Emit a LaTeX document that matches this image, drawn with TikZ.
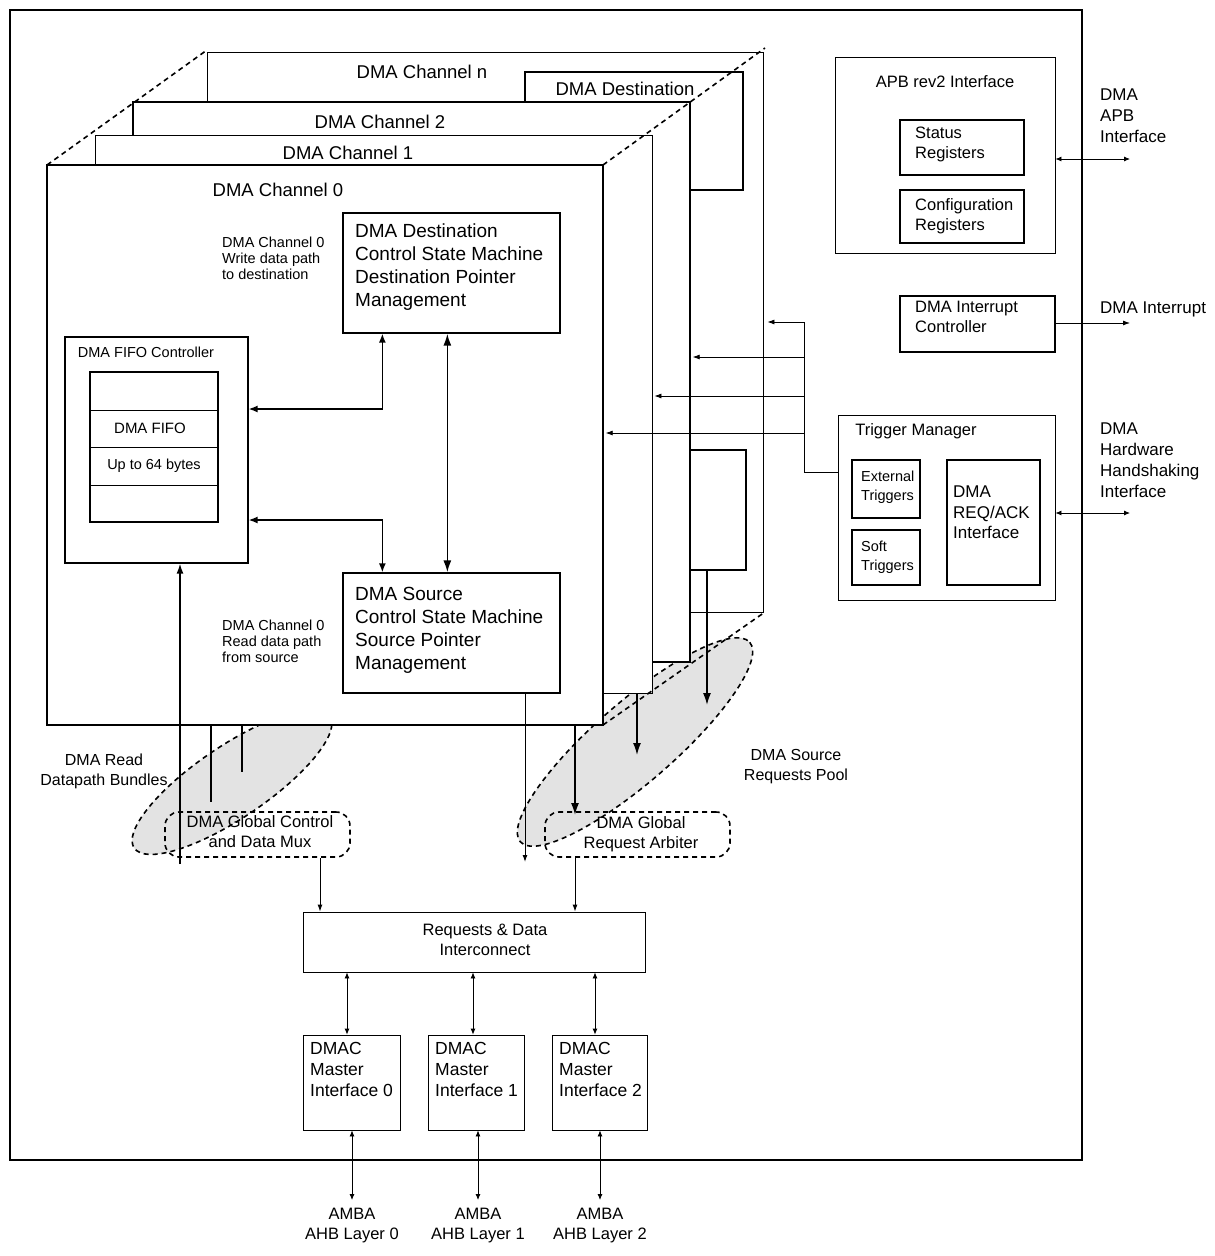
\documentclass[tikz,border=0pt]{standalone}
\usepackage{fontspec}
\setmainfont{Liberation Sans}
\usetikzlibrary{fit,arrows.meta,calc}
\begin{document}
\begin{tikzpicture}[x=1pt,y=-1pt,
  box/.style={draw,line width=1.3pt,fill=white,inner sep=0pt},
  tbox/.style={draw,line width=0.8pt,fill=white,inner sep=0pt},
  dsh/.style={dashed,line width=1.6pt,dash pattern=on 5pt off 4pt},
  lbl/.style={font=\fontsize{16}{19}\selectfont,align=left,inner sep=0pt},
  sm/.style={font=\fontsize{13}{16}\selectfont,align=left,inner sep=0pt},
  ar/.style={-{Latex[length=7pt,width=5pt]},line width=0.8pt},
  dar/.style={{Latex[length=6pt,width=5pt]}-{Latex[length=6pt,width=5pt]},line width=0.8pt},
  tar/.style={{Latex[length=12pt,width=8pt]}-{Latex[length=12pt,width=8pt]},line width=1.6pt},
  tdown/.style={-{Latex[length=12pt,width=8pt]},line width=1.6pt}]
\useasboundingbox (0,0) rectangle (1215,1256);
\node[draw,line width=1.3pt,inner sep=0pt,fit={(10,10)(1082,1160)}] (outer) {};
% pools
\fill[gray!22] (232,782) ellipse[x radius=118,y radius=36,rotate=34];
\draw[dsh] (232,782) ellipse[x radius=118,y radius=36,rotate=34];
\fill[gray!22] (635,742) ellipse[x radius=152,y radius=40,rotate=41];
\draw[dsh] (635,742) ellipse[x radius=152,y radius=40,rotate=41];
% channel n
\node[tbox,fit={(207,52)(763,612)}] (chn) {};
\node[lbl,font=\fontsize{18.5}{22}\selectfont] at (422,72) {DMA Channel n};
\node[box,fit={(525,72)(743,190)}] (dest) {};
\node[lbl,font=\fontsize{18.5}{22}\selectfont] at (625,89) {DMA Destination};
\node[box,fit={(690,450)(746,570)}] (chnsrc) {};
% channel 2
\node[box,fit={(133,102)(690,662)}] (ch2) {};
\node[lbl,font=\fontsize{18.5}{22}\selectfont] at (380,122) {DMA Channel 2};
% channel 1
\node[tbox,fit={(95,135)(652,693)}] (ch1) {};
\node[lbl,font=\fontsize{18.5}{22}\selectfont] at (348,153) {DMA Channel 1};
% dashed perspective
\draw[dsh] (47,165) -- (207,50);
\draw[dsh] (603,165) -- (765,48);
\draw[dsh] (603,725) -- (765,612);
\draw[line width=1.3pt] (525,102) -- (525,72) -- (743,72) -- (743,190) -- (690,190);
% channel 0
\node[box,fit={(47,165)(603,725)}] (ch0) {};
\node[lbl,font=\fontsize{18.5}{22}\selectfont] at (278,190) {DMA Channel 0};
\node[box,fit={(343,213)(560,333)}] (dst) {};
\node[lbl,anchor=north west,font=\fontsize{19}{23}\selectfont] at (355,224) {DMA Destination\\Control State Machine\\Destination Pointer\\Management};
\node[box,fit={(343,573)(560,693)}] (src) {};
\node[lbl,anchor=north west,font=\fontsize{19}{23}\selectfont] at (355,587) {DMA Source\\Control State Machine\\Source Pointer\\Management};
\node[sm,anchor=north west,font=\fontsize{14.5}{16}\selectfont] at (222,237) {DMA Channel 0\\Write data path\\to destination};
\node[sm,anchor=north west,font=\fontsize{14.5}{16}\selectfont] at (222,620) {DMA Channel 0\\Read data path\\from source};
\node[box,fit={(65,337)(248,563)}] (fifoc) {};
\node[sm,font=\fontsize{14.5}{16}\selectfont] at (146,352) {DMA FIFO Controller};
\node[box,fit={(90,372)(218,522)}] (fifo) {};
\draw[line width=0.7pt] (90,410)--(218,410) (90,447)--(218,447) (90,485)--(218,485);
\node[sm,font=\fontsize{15}{16}\selectfont] at (150,428) {DMA FIFO};
\node[sm,font=\fontsize{14.5}{16}\selectfont] at (154,466) {Up to 64 bytes};
% internal arrows
\draw[line width=1.4pt,{Latex[length=9pt,width=7pt]}-{Latex[length=9pt,width=7pt]}] (fifoc.east |- 0,409) -| ($(dst.south west)+(40,0)$);
\draw[line width=1.4pt,{Latex[length=9pt,width=7pt]}-{Latex[length=9pt,width=7pt]}] (fifoc.east |- 0,520) -| ($(src.north west)+(40,0)$);
\draw[tar] ($(dst.south west)+(105,0)$) -- ($(src.north west)+(105,0)$);
% bottom bundles
\coordinate (rd0) at (180,864);
\draw[line width=1.4pt,-{Latex[length=10pt,width=7pt]}] (rd0) -- (fifoc.south -| rd0);
\draw[line width=1.4pt] (211,725) -- (211,802) (242,725) -- (242,772);
% global boxes
\node[draw,dsh,rounded corners=14pt,fit={(165,812)(350,857)},inner sep=0pt] (mux) {};
\node[sm,align=center,font=\fontsize{16.5}{20}\selectfont] at (260,832) {DMA Global Control\\and Data Mux};
\node[draw,dsh,rounded corners=14pt,fit={(545,812)(730,857)},inner sep=0pt] (arb) {};
\node[sm,align=center,font=\fontsize{16.5}{20}\selectfont] at (641,834) {DMA Global\\Request Arbiter};
% source request arrows
\draw[ar,line width=1pt] (src.south -| 525,0) -- (525,862);
\draw[tdown] (ch0.south -| 575,0) -- (575,815);
\draw[tdown,line width=1.4pt] (ch1.south -| 637,0) -- (637,755);
\draw[tdown] (chnsrc.south -| 707,0) -- (707,705);
% labels
\node[lbl,align=center,font=\fontsize{16}{20}\selectfont] at (104,771) {DMA Read\\Datapath Bundles};
\node[lbl,align=center,font=\fontsize{16}{20}\selectfont] at (796,767) {DMA Source\\Requests Pool};
% interconnect
\node[tbox,fit={(303,912)(645,972)}] (ic) {};
\node[sm,align=center,font=\fontsize{16.5}{20}\selectfont] at (485,940) {Requests \& Data\\Interconnect};
\draw[ar,line width=1pt] (mux.south -| 320,0) -- (ic.north -| 320,0);
\draw[ar,line width=1pt] (arb.south -| 575,0) -- (ic.north -| 575,0);
% masters
\foreach \n/\xa/\xb/\xc in {0/303/400/352, 1/428/524/478, 2/552/647/600}{
  \node[tbox,fit={(\xa,1035)(\xb,1130)}] (m\n) {};
  \node[lbl,anchor=north west,font=\fontsize{17.5}{21}\selectfont] at (\xa+7,1042) {DMAC\\Master\\Interface \n};
  \draw[dar] (ic.south -| \xc-5,0) -- (m\n.north -| \xc-5,0);
  \coordinate (amba\n) at (\xc,1200);
  \draw[dar] (m\n.south -| \xc,0) -- (amba\n);
  \node[lbl,align=center,font=\fontsize{16.5}{20}\selectfont,anchor=north] at (\xc,1208) {AMBA\\AHB Layer \n};
}
% APB
\node[tbox,fit={(835,57)(1055,253)}] (apb) {};
\node[sm,font=\fontsize{16.5}{18}\selectfont] at (945,82) {APB rev2 Interface};
\node[box,fit={(900,120)(1024,175)}] (stat) {};
\node[lbl,anchor=north west,font=\fontsize{16.5}{20}\selectfont] at (915,127) {Status\\Registers};
\node[box,fit={(900,190)(1024,243)}] (conf) {};
\node[lbl,anchor=north west,font=\fontsize{16.5}{20}\selectfont] at (915,198) {Configuration\\Registers};
\coordinate (apbx) at (1130,159);
\draw[dar] (apb.east |- apbx) -- (apbx);
\node[lbl,anchor=north west,font=\fontsize{17}{21}\selectfont] at (1100,89) {DMA\\APB\\Interface};
% interrupt
\node[box,fit={(900,296)(1055,352)}] (intc) {};
\node[lbl,anchor=north west,font=\fontsize{16.5}{20}\selectfont] at (915,301) {DMA Interrupt\\Controller};
\coordinate (intx) at (1130,323);
\draw[ar,line width=0.8pt] (intc.east |- intx) -- (intx);
\node[lbl,anchor=west,font=\fontsize{17}{20}\selectfont] at (1100,309) {DMA Interrupt};
% trigger manager
\node[tbox,fit={(838,415)(1055,600)}] (trg) {};
\node[sm,font=\fontsize{16.5}{18}\selectfont] at (916,431) {Trigger Manager};
\node[box,fit={(852,460)(920,518)}] (ext) {};
\node[sm,anchor=north west,font=\fontsize{14.5}{19}\selectfont] at (861,471) {External\\Triggers};
\node[box,fit={(852,530)(920,585)}] (soft) {};
\node[sm,anchor=north west,font=\fontsize{14.5}{19}\selectfont] at (861,541) {Soft\\Triggers};
\node[box,fit={(947,460)(1040,585)}] (req) {};
\node[lbl,anchor=north west,font=\fontsize{17}{20.5}\selectfont] at (953,486) {DMA\\REQ/ACK\\Interface};
\coordinate (hsx) at (1130,513);
\draw[dar] (trg.east |- hsx) -- (hsx);
\node[lbl,anchor=north west,font=\fontsize{17}{21}\selectfont] at (1100,423) {DMA\\Hardware\\Handshaking\\Interface};
% trigger distribution
\coordinate (tv) at (804,472);
\draw[line width=0.8pt] (trg.west |- tv) -- (tv) -- (804,322);
\draw[ar] (804,322) -- ($(chn.east |- 0,322)+(4,0)$);
\draw[ar] (804,357) -- ($(ch2.east |- 0,357)+(2,0)$);
\draw[ar] (804,396) -- ($(ch1.east |- 0,396)+(2,0)$);
\draw[ar] (804,433) -- ($(ch0.east |- 0,433)+(2,0)$);
\end{tikzpicture}
\end{document}
